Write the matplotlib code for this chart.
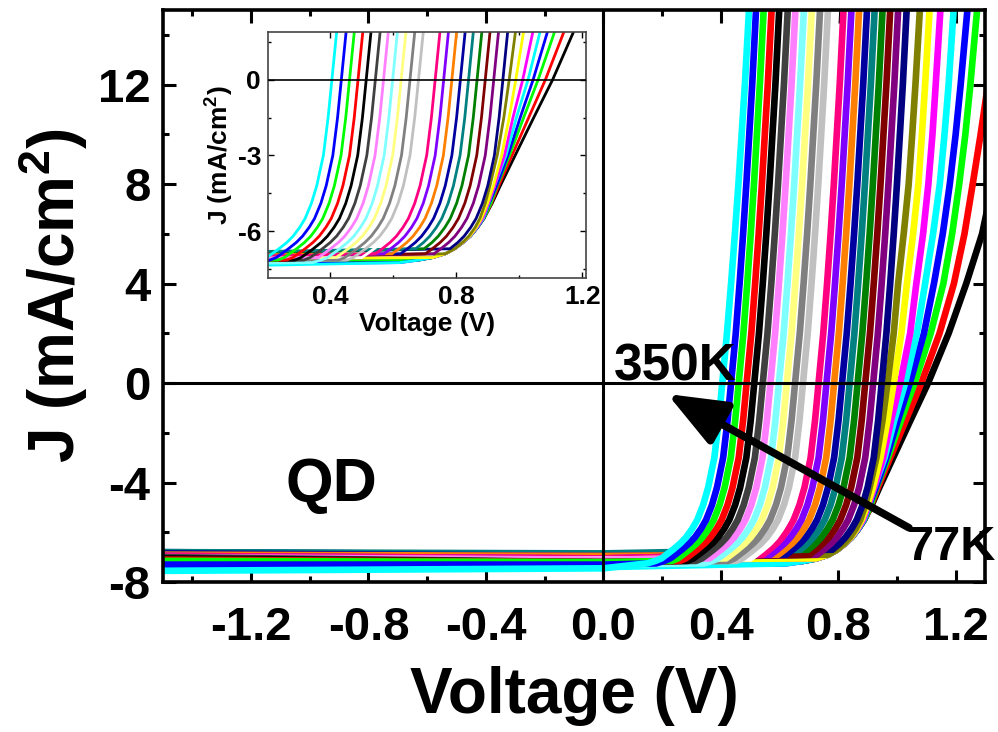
import numpy as np
import matplotlib.pyplot as plt
from matplotlib.ticker import MultipleLocator, FormatStrFormatter

plt.rcParams['font.family'] = ['Liberation Sans', 'DejaVu Sans']
plt.rcParams['font.weight'] = 'bold'
plt.rcParams['axes.unicode_minus'] = False
plt.rcParams['mathtext.fontset'] = 'custom'
plt.rcParams['mathtext.rm'] = 'Liberation Sans:bold'
plt.rcParams['mathtext.bf'] = 'Liberation Sans:bold'

nan = np.nan

# current levels (mA/cm2) at which the voltage of each curve was read
j_levels = [-7.25, -7.15, -7.05, -6.9, -6.7, -6.45, -6.2, -5.85, -5.5, -4.9, -4.2,
            -3.0, -1.5, 0.0, 2.0, 4.0, 6.0, 8.0, 10.0, 12.0, 15.0]

# curves from 77K (first) to 350K (last), Origin colour order
colors = ['#000000', '#FF0000', '#00FF00', '#0000FF', '#00FFFF', '#FF00FF',
          '#FFFF00', '#808000', '#000080', '#800080', '#800000', '#008000',
          '#008080', '#0000A0', '#FF8000', '#8000FF', '#FF0080', '#FFFFFF',
          '#C0C0C0', '#808080', '#FFFF80', '#80FFFF', '#FF80FF', '#404040',
          '#000000', '#FF0000', '#00FF00', '#0000FF', '#00FFFF']

# J at -1.5 V and at 0 V (flat reverse part)
j_rev = [-7.10, -7.15, -7.20, -7.25, -7.50, -7.00, -7.05, -6.90, -6.80, -6.95,
         -6.90, -6.85, -6.80, -6.85, -6.90, -6.95, -6.95, -7.10, -7.10, -7.10,
         -7.05, -7.20, -7.00, -7.00, -7.05, -7.10, -7.15, -7.30, -7.55]
j_zero = [-7.20, -7.20, -7.20, -7.30, -7.40, -7.10, -7.10, -7.05, -6.90, -7.05,
          -7.05, -6.90, -6.85, -6.95, -6.95, -7.05, -7.05, -7.10, -7.20, -7.20,
          -7.10, -7.30, -7.10, -7.20, -7.20, -7.20, -7.20, -7.30, -7.45]

# voltage (V) of each curve at j_levels (nan: level lies on the flat part)
v_at_level = [
    [nan, .680, .725, .765, .795, .822, .845, .868, .888, .914, .940, .987, 1.046, 1.106, 1.176, 1.236, 1.290, 1.326, 1.358, 1.386, 1.420],
    [nan, .680, .725, .765, .795, .822, .845, .868, .888, .912, .935, .977, 1.030, 1.083, 1.145, 1.194, 1.230, 1.258, 1.285, 1.310, 1.345],
    [nan, .680, .725, .765, .795, .822, .845, .868, .888, .910, .930, .969, 1.014, 1.060, 1.115, 1.158, 1.188, 1.212, 1.233, 1.250, 1.273],
    [.620, .680, .725, .765, .795, .822, .845, .868, .887, .905, .928, .964, 1.003, 1.044, 1.092, 1.126, 1.156, 1.180, 1.200, 1.217, 1.240],
    [.620, .680, .725, .765, .795, .822, .845, .867, .886, .903, .922, .958, .991, 1.028, 1.068, 1.096, 1.123, 1.146, 1.162, 1.176, 1.193],
    [nan, nan, .725, .765, .795, .822, .844, .866, .884, .902, .922, .953, .980, 1.011, 1.045, 1.066, 1.089, 1.107, 1.121, 1.132, 1.148],
    [nan, nan, .725, .765, .795, .821, .843, .864, .880, .899, .918, .944, .968, .989, 1.015, 1.034, 1.055, 1.073, 1.085, 1.096, 1.111],
    [nan, nan, nan, .765, .795, .820, .840, .860, .875, .892, .907, .930, .951, .968, .989, 1.004, 1.023, 1.040, 1.052, 1.063, 1.078],
    [nan, nan, nan, nan, .780, .805, .825, .846, .863, .883, .900, .921, .936, .948, .964, .977, .989, 1.000, 1.010, 1.020, 1.033],
    [nan, nan, nan, .729, .751, .776, .796, .817, .834, .854, .871, .892, .907, .919, .935, .948, .960, .971, .981, .991, 1.004],
    [nan, nan, nan, .702, .724, .749, .769, .790, .807, .827, .844, .865, .880, .892, .908, .921, .933, .944, .954, .964, .977],
    [nan, nan, nan, nan, .698, .723, .743, .764, .781, .801, .818, .839, .854, .866, .882, .895, .907, .918, .928, .938, .951],
    [nan, nan, nan, nan, .671, .696, .716, .737, .754, .774, .791, .812, .827, .839, .855, .868, .880, .891, .901, .911, .924],
    [nan, nan, nan, .623, .645, .670, .690, .711, .728, .748, .765, .786, .801, .813, .829, .842, .854, .865, .875, .885, .898],
    [nan, nan, nan, .596, .618, .643, .663, .684, .701, .721, .738, .759, .774, .786, .802, .815, .827, .838, .848, .858, .871],
    [nan, nan, nan, .570, .592, .617, .637, .658, .675, .695, .712, .733, .748, .760, .776, .789, .801, .812, .822, .832, .845],
    [nan, nan, nan, .543, .565, .590, .610, .631, .648, .668, .685, .706, .721, .733, .749, .762, .774, .785, .795, .805, .818],
    [nan, nan, .500, .517, .539, .564, .584, .605, .622, .642, .659, .680, .695, .707, .723, .736, .748, .759, .769, .779, .792],
    [nan, .453, .473, .490, .512, .537, .557, .578, .595, .615, .632, .653, .668, .680, .696, .709, .721, .732, .742, .752, .765],
    [nan, .426, .446, .463, .485, .510, .530, .551, .568, .588, .605, .626, .641, .653, .669, .682, .694, .705, .715, .725, .738],
    [nan, nan, .418, .435, .457, .482, .502, .523, .540, .560, .577, .598, .613, .625, .641, .654, .666, .677, .687, .697, .710],
    [.343, .371, .391, .408, .430, .455, .475, .496, .513, .533, .550, .571, .586, .598, .614, .627, .639, .650, .660, .670, .683],
    [nan, nan, .362, .379, .401, .426, .446, .467, .484, .504, .521, .542, .557, .569, .585, .598, .610, .621, .631, .641, .654],
    [nan, .316, .336, .353, .375, .400, .420, .441, .458, .478, .495, .516, .531, .543, .559, .572, .584, .595, .605, .615, .628],
    [nan, .287, .307, .324, .346, .371, .391, .412, .429, .449, .466, .487, .502, .514, .530, .543, .555, .566, .576, .586, .599],
    [nan, .261, .281, .298, .320, .345, .365, .386, .403, .423, .440, .461, .476, .488, .504, .517, .529, .540, .550, .560, .573],
    [nan, .234, .254, .271, .293, .318, .338, .359, .376, .396, .413, .434, .449, .461, .477, .490, .502, .513, .523, .533, .546],
    [.180, .208, .228, .245, .267, .292, .312, .333, .350, .370, .387, .408, .423, .435, .451, .464, .476, .487, .497, .507, .520],
    [.150, .178, .198, .215, .237, .262, .282, .303, .320, .340, .357, .378, .393, .405, .421, .435, .448, .460, .471, .482, .496],
]


def curve(jr, jz, vrow):
    v = [-1.5, 0.0] + [x for x in vrow if not np.isnan(x)]
    j = [jr, jz] + [jl for x, jl in zip(vrow, j_levels) if not np.isnan(x)]
    return v, j


fig = plt.figure(figsize=(9.98, 7.32), dpi=100)
ax = fig.add_axes([0.1633, 0.2049, 0.8237, 0.7814])

for c, jr, jz, vrow in zip(colors, j_rev, j_zero, v_at_level):
    v, j = curve(jr, jz, vrow)
    ax.plot(v, j, color=c, lw=4.8, solid_joinstyle='round')

ax.axhline(0, color='k', lw=2.2, zorder=5)
ax.axvline(0, color='k', lw=2.2, zorder=5)

ax.set_xlim(-1.5, 1.3)
ax.set_ylim(-8, 15)
ax.xaxis.set_major_locator(MultipleLocator(0.4))
ax.xaxis.set_minor_locator(MultipleLocator(0.2))
ax.yaxis.set_major_locator(MultipleLocator(4))
ax.yaxis.set_minor_locator(MultipleLocator(2))
ax.xaxis.set_major_formatter(FormatStrFormatter('%.1f'))
ax.yaxis.set_major_formatter(FormatStrFormatter('%d'))
ax.tick_params(which='both', direction='in', top=True, right=True, width=2.2)
ax.tick_params(which='major', length=9)
ax.tick_params(which='minor', length=4.5)
ax.tick_params(axis='x', labelsize=34, pad=17)
ax.tick_params(axis='y', labelsize=34, pad=9)
for s in ax.spines.values():
    s.set_linewidth(2.6)

ax.set_xlabel('Voltage (V)', fontsize=46, fontweight='bold', labelpad=12)
ax.set_ylabel(r'J (mA/cm$^\mathbf{2}$)', fontsize=46, fontweight='bold', labelpad=6)

ax.text(-0.925, -4.1, 'QD', fontsize=44, fontweight='bold', ha='center', va='center')
ax.text(0.034, 0.64, '350K', fontsize=37, fontweight='bold', ha='left', va='center')
ax.text(1.034, -6.63, '77K', fontsize=35, fontweight='bold', ha='left', va='center')
ax.annotate('', xy=(0.218, -0.44), xytext=(1.041, -5.82),
            arrowprops=dict(arrowstyle='-|>,head_length=0.9,head_width=0.36',
                            lw=5.5, color='k', mutation_scale=40,
                            shrinkA=0, shrinkB=0))

# inset: zoom on the open-circuit region
ins = fig.add_axes([0.2685, 0.6202, 0.3187, 0.3361])
for c, jr, jz, vrow in zip(colors, j_rev, j_zero, v_at_level):
    v, j = curve(jr, jz, vrow)
    ins.plot(v, j, color=c, lw=2.0, solid_joinstyle='round')
ins.axhline(0, color='k', lw=1.2, zorder=5)
ins.set_xlim(0.202, 1.212)
ins.set_ylim(-7.86, 1.89)
ins.xaxis.set_major_locator(MultipleLocator(0.4))
ins.xaxis.set_minor_locator(MultipleLocator(0.2))
ins.yaxis.set_major_locator(MultipleLocator(3))
ins.yaxis.set_minor_locator(MultipleLocator(1.5))
ins.xaxis.set_major_formatter(FormatStrFormatter('%.1f'))
ins.yaxis.set_major_formatter(FormatStrFormatter('%d'))
ins.tick_params(which='both', direction='in', top=True, right=True, width=1.0,
                labelsize=19, pad=5)
ins.tick_params(which='major', length=4)
ins.tick_params(which='minor', length=2.5)
for s in ins.spines.values():
    s.set_linewidth(1.2)
    s.set_color('#444444')
ins.set_xlabel('Voltage (V)', fontsize=19, fontweight='bold', labelpad=2)
ins.set_ylabel(r'J (mA/cm$^\mathbf{2}$)', fontsize=19, fontweight='bold', labelpad=2)

fig.savefig('out.png', dpi=100)
